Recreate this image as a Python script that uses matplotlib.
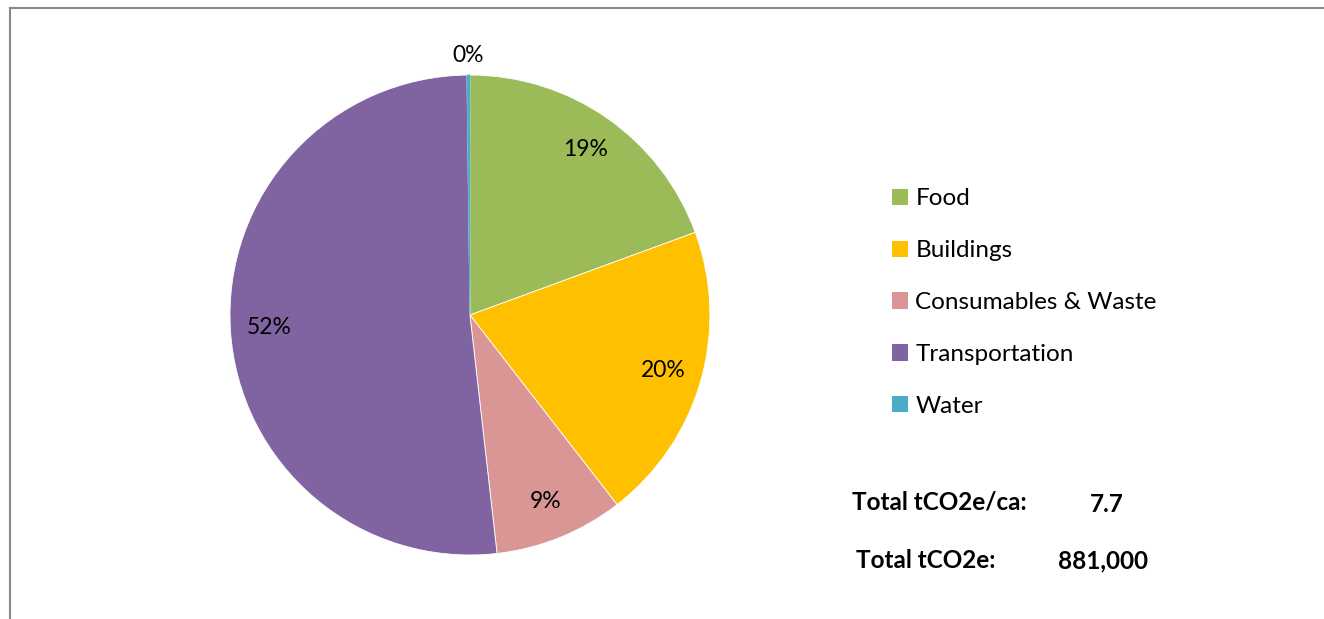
import matplotlib.pyplot as plt
from matplotlib.lines import Line2D
from matplotlib.patches import Patch

plt.rcParams['font.family'] = ['Lato', 'DejaVu Sans']

# Data
categories = ['Food', 'Buildings', 'Consumables & Waste', 'Transportation', 'Water']
shares = [19.4, 20.1, 8.7, 51.6, 0.2]
colors = ['#9BBB59', '#FFC000', '#D99694', '#8064A2', '#4BACC6']
total_per_capita = '7.7'
total_emissions = '881,000'

fig = plt.figure(figsize=(13.24, 6.19), dpi=100)

# Pie axes
ax = fig.add_axes([0.1737, 0.1034, 0.3625, 0.7754])
wedges, texts, autotexts = ax.pie(
    shares, colors=colors, startangle=90, counterclock=False,
    autopct='%1.0f%%', pctdistance=0.84,
    wedgeprops=dict(edgecolor='white', linewidth=0.6),
    textprops=dict(fontsize=16.5, color='black'))
ax.set_xlim(-1, 1)
ax.set_ylim(-1, 1)
ax.set_aspect('equal')

# keep the thin Water sliver visible
wedges[-1].set_edgecolor(colors[-1])
wedges[-1].set_linewidth(0.5)

# Move the tiny Water label outside the pie
x, y = autotexts[-1].get_position()
autotexts[-1].set_position((x * 1.08 / 0.84, y * 1.08 / 0.84))

# Legend
handles = [Patch(facecolor=c, edgecolor='none') for c in colors]
fig.legend(handles, categories, loc='upper left', bbox_to_anchor=(0.6575, 0.731),
           frameon=False, fontsize=17.5, labelspacing=1.27, handlelength=0.65,
           handleheight=0.65, handletextpad=0.3)

# Totals
fig.text(852 / 1324, 1 - 502 / 619, 'Total tCO2e/ca:', fontsize=17.5, fontweight='bold', va='center')
fig.text(1107 / 1324, 1 - 505 / 619, total_per_capita, fontsize=17.5, fontweight='bold', va='center', ha='center')
fig.text(856 / 1324, 1 - 561 / 619, 'Total tCO2e:', fontsize=17.5, fontweight='bold', va='center')
fig.text(1103 / 1324, 1 - 561 / 619, total_emissions, fontsize=17.5, fontweight='bold', va='center', ha='center')

# Chart border (top and left edges visible)
fig.add_artist(Line2D([9.5 / 1324, 9.5 / 1324], [0, 1 - 7.5 / 619], color='#888888', lw=1.5,
                      transform=fig.transFigure))
fig.add_artist(Line2D([9.5 / 1324, 1323 / 1324], [1 - 7.5 / 619, 1 - 7.5 / 619], color='#888888', lw=1.5,
                      transform=fig.transFigure))

fig.savefig('out.png', dpi=100)
